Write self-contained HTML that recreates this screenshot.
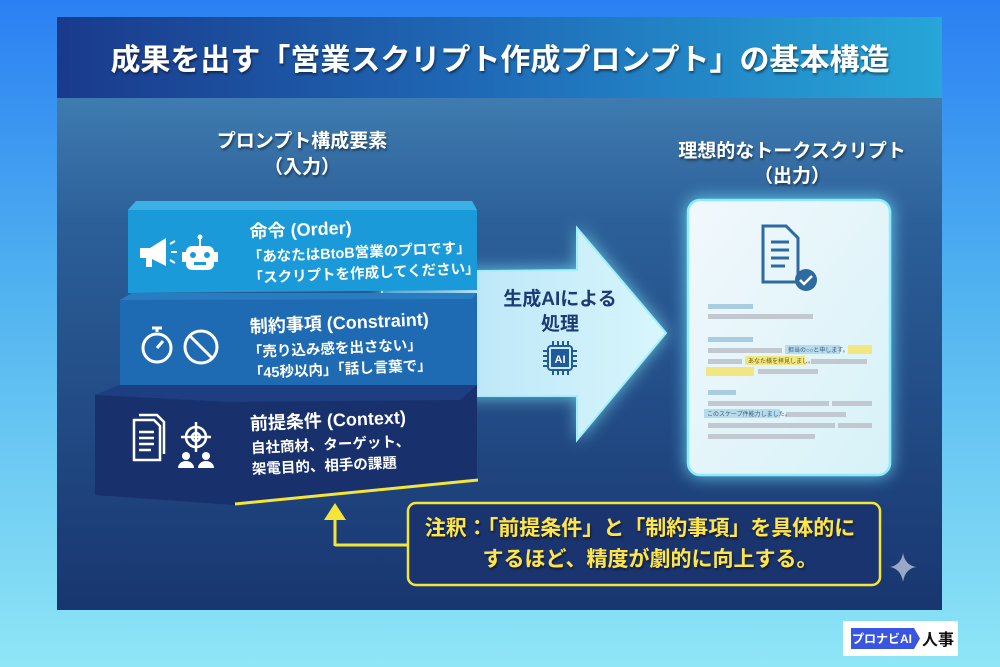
<!DOCTYPE html>
<html><head><meta charset="utf-8"><style>
html,body{margin:0;padding:0;background:#8fe6f6;}
body{width:1000px;height:667px;overflow:hidden;background:linear-gradient(180deg,#2a80f2 0%,#52b4f0 45%,#8fe6f6 100%);font-family:"Liberation Sans","Noto Sans CJK JP",sans-serif;}
svg{display:block;}
svg text{font-family:"Liberation Sans","Noto Sans CJK JP",sans-serif;}
</style></head><body>
<svg width="1000" height="667" viewBox="0 0 1000 667" xmlns="http://www.w3.org/2000/svg">
<defs>
<linearGradient id="bg" x1="0" x2="0" y1="0" y2="1"><stop offset="0" stop-color="#2a80f2"/><stop offset="0.45" stop-color="#52b4f0"/><stop offset="1" stop-color="#8fe6f6"/></linearGradient>
<linearGradient id="hdr" x1="0" x2="1" y1="0" y2="0"><stop offset="0" stop-color="#1a3a8c"/><stop offset="0.5" stop-color="#1f6cb8"/><stop offset="1" stop-color="#27a6d8"/></linearGradient>
<linearGradient id="pnl" x1="0" x2="0" y1="0" y2="1"><stop offset="0" stop-color="#4a8ebf"/><stop offset="0.35" stop-color="#2c5f98"/><stop offset="1" stop-color="#183670"/></linearGradient>
<linearGradient id="arr" x1="0" x2="1" y1="0" y2="0"><stop offset="0" stop-color="#5a9ad0" stop-opacity="0.3"/><stop offset="0.35" stop-color="#bfe8f8"/><stop offset="1" stop-color="#d8f6fc"/></linearGradient>
<linearGradient id="doc" x1="0" x2="1" y1="0" y2="1"><stop offset="0" stop-color="#f2f8fc"/><stop offset="1" stop-color="#d6f2f8"/></linearGradient>
<filter id="glow" x="-30%" y="-30%" width="160%" height="160%"><feGaussianBlur stdDeviation="8"/></filter>
<filter id="sh"><feDropShadow dx="1" dy="2" stdDeviation="1.2" flood-color="#000" flood-opacity="0.5"/></filter>
</defs>
<rect x="0" y="0" width="1000" height="667" fill="url(#bg)"/>
<rect x="57" y="17" width="885" height="593" fill="url(#pnl)"/>
<rect x="57" y="17" width="885" height="81" fill="url(#hdr)"/>
<text x="500" y="70" text-anchor="middle" font-size="30" font-weight="bold" fill="#fff" filter="url(#sh)">成果を出す「営業スクリプト作成プロンプト」の基本構造</text>

<text x="302" y="147" text-anchor="middle" font-size="19" font-weight="bold" fill="#fff" filter="url(#sh)">プロンプト構成要素</text>
<text x="302" y="173" text-anchor="middle" font-size="19" font-weight="bold" fill="#fff" filter="url(#sh)">（入力）</text>
<text x="792" y="157" text-anchor="middle" font-size="19" font-weight="bold" fill="#fff" filter="url(#sh)">理想的なトークスクリプト</text>
<text x="792" y="182" text-anchor="middle" font-size="19" font-weight="bold" fill="#fff" filter="url(#sh)">（出力）</text>

<!-- arrow -->
<polygon points="382,270 577,268 577,226 668,333 577,442 577,398 382,398" fill="#7ee6f8" filter="url(#glow)" opacity="0.7"/>
<polygon points="382,272 577,270 577,228 666,333 577,440 577,396 382,396" fill="url(#arr)" stroke="#9ff0fc" stroke-width="2"/>
<text x="560" y="305" text-anchor="middle" font-size="19" font-weight="bold" fill="#1c3a74">生成AIによる</text>
<text x="560" y="330" text-anchor="middle" font-size="19" font-weight="bold" fill="#1c3a74">処理</text>
<g stroke="#1f5a9a" stroke-width="2" fill="none">
<rect x="548" y="346" width="24" height="24" rx="3"/>
<path d="M553 346v-5M558 346v-5M563 346v-5M568 346v-5M553 370v5M558 370v5M563 370v5M568 370v5M548 351h-5M548 356h-5M548 361h-5M548 366h-5M572 351h5M572 356h5M572 361h5M572 366h5"/>
</g>
<rect x="551" y="349" width="18" height="18" fill="#1f5a9a"/>
<text x="560" y="363" text-anchor="middle" font-size="11" font-weight="bold" fill="#fff">AI</text>

<!-- blocks -->
<polygon points="95,395 120,385 477,385 477,480 235,505 95,495" fill="#18306c"/>
<polygon points="95,395 120,385 477,385 460,400 230,402" fill="#1e3e82"/>
<polygon points="120,300 132,293 477,293 477,385 120,385" fill="#1e6bb3"/>
<polygon points="120,300 132,293 477,293 472,299" fill="#2a7cc0"/>
<polygon points="128,210 136,201 472,201 477,210 477,290 128,293" fill="#1b9ad9"/>
<polygon points="128,210 136,201 472,201 477,210" fill="#3ab0e6"/>
<line x1="235" y1="504" x2="478" y2="480" stroke="#f5e53a" stroke-width="3"/>

<g fill="#fff" font-weight="bold">
<g transform="rotate(-2.5 250 240)">
<text x="250" y="238" font-size="18">命令 (Order)</text>
<text x="247" y="262" font-size="14.5">「あなたはBtoB営業のプロです」</text>
<text x="247" y="283" font-size="14.5">「スクリプトを作成してください」</text>
</g>
<g transform="rotate(-2.5 250 330)">
<text x="250" y="333" font-size="18">制約事項 (Constraint)</text>
<text x="247" y="357" font-size="14.5">「売り込み感を出さない」</text>
<text x="247" y="378" font-size="14.5">「45秒以内」「話し言葉で」</text>
</g>
<g transform="rotate(-2.5 250 425)">
<text x="250" y="430" font-size="18">前提条件 (Context)</text>
<text x="250" y="453" font-size="14.5">自社商材、ターゲット、</text>
<text x="250" y="474" font-size="14.5">架電目的、相手の課題</text>
</g>
</g>
<!-- icons -->
<g fill="#fff">
<polygon points="140,248 150,248 166,238 166,266 150,258 140,258"/><rect x="146" y="257" width="6" height="10"/>
<path d="M170 244l5-3M171 252h6M170 260l5 3" stroke="#fff" stroke-width="2"/>
<rect x="186" y="246" width="28" height="24" rx="6"/><rect x="182" y="252" width="4" height="10"/><rect x="214" y="252" width="4" height="10"/>
<rect x="199" y="238" width="2" height="8"/><circle cx="200" cy="237" r="2.5"/>
<circle cx="193" cy="255" r="3" fill="#1b9ad9"/><circle cx="207" cy="255" r="3" fill="#1b9ad9"/><rect x="194" y="262" width="12" height="3" fill="#1b9ad9"/>
</g>
<g fill="none" stroke="#fff" stroke-width="3">
<circle cx="157" cy="348" r="14"/><path d="M157 332v-4M152 328h10M157 348l6-7"/>
<circle cx="201" cy="347" r="16"/><line x1="190" y1="336" x2="212" y2="358"/>
</g>
<g fill="none" stroke="#fff" stroke-width="2.5">
<path d="M134 420h20l6 6v34h-26z"/><path d="M139 415h18l7 7v32"/>
<path d="M139 432h15M139 438h15M139 444h15M139 450h12"/>
<circle cx="196" cy="437" r="10"/><circle cx="196" cy="437" r="4"/><path d="M196 422v30M181 437h30"/>
</g>
<g fill="#fff"><circle cx="186" cy="456" r="4"/><path d="M178 468a8 7 0 0 1 16 0z"/><circle cx="206" cy="456" r="4"/><path d="M198 468a8 7 0 0 1 16 0z"/></g>

<!-- doc card -->
<rect x="686" y="198" width="206" height="279" rx="14" fill="#6ee0f8" filter="url(#glow)" opacity="0.8"/>
<rect x="688" y="200" width="202" height="275" rx="12" fill="url(#doc)" stroke="#8cecfc" stroke-width="2.5"/>
<g stroke="#2c6aa0" stroke-width="3" fill="none"><path d="M763 226h23l12 12v44h-35z"/><path d="M771 242h18M771 250h18M771 258h18M771 266h14"/></g>
<circle cx="806" cy="280" r="11" fill="#2c6aa0"/><path d="M800 280l4 4 8-8" stroke="#fff" stroke-width="2.5" fill="none"/>
<g fill="#a8cde0"><rect x="708" y="304" width="45" height="5"/><rect x="708" y="337" width="45" height="5"/><rect x="708" y="390" width="28" height="5"/></g>
<g fill="#c2c8cf">
<rect x="708" y="314" width="105" height="5"/><rect x="708" y="348" width="74" height="5"/><rect x="708" y="359" width="34" height="5"/><rect x="811" y="359" width="56" height="5"/><rect x="758" y="369" width="60" height="5"/>
<rect x="708" y="401" width="121" height="5"/><rect x="832" y="401" width="40" height="5"/><rect x="786" y="412" width="60" height="5"/><rect x="708" y="423" width="127" height="5"/><rect x="838" y="423" width="34" height="5"/><rect x="708" y="434" width="107" height="5"/>
</g>
<rect x="785" y="345" width="55" height="9" fill="#b6dcec"/><text x="788" y="352" font-size="6" fill="#3a5a7a">担当の○○と申します。</text>
<rect x="848" y="345" width="24" height="9" fill="#f2e680"/>
<rect x="745" y="356" width="60" height="9" fill="#f2e680"/><text x="748" y="363" font-size="6" fill="#6a5a20">あなた様を拝見しまし。</text>
<rect x="706" y="367" width="48" height="9" fill="#f2e680"/>
<rect x="704" y="409" width="76" height="9" fill="#b6dcec"/><text x="707" y="416" font-size="6" fill="#3a5a7a">このスケープ件能力しました。</text>

<!-- note connector -->
<path d="M335 545H408" stroke="#f5e53a" stroke-width="3" fill="none"/>
<path d="M335 546V518" stroke="#f5e53a" stroke-width="3"/>
<polygon points="324,520 346,520 335,503" fill="#f5e53a"/>
<rect x="408" y="503" width="472" height="82" rx="8" fill="#1a3470" stroke="#f5e53a" stroke-width="2.5"/>
<g font-size="21" font-weight="bold" fill="#ffe54a" filter="url(#sh)">
<text x="640" y="535" text-anchor="middle">注釈：「前提条件」と「制約事項」を具体的に</text>
<text x="650" y="566" text-anchor="middle">するほど、精度が劇的に向上する。</text>
</g>
<path d="M903 553Q905 565 916 567Q905 569 903 582Q901 569 890 567Q901 565 903 553z" fill="#b8c4dc" opacity="0.8"/>

<!-- logo -->
<rect x="843" y="621" width="115" height="35" fill="#fff"/>
<polygon points="851,628 914,628 920,638.5 914,649 851,649" fill="#3a55e0"/>
<text x="882" y="643" text-anchor="middle" font-size="12" font-weight="bold" fill="#fff">プロナビAI</text>
<text x="922" y="645" font-size="16" font-weight="bold" fill="#111">人事</text>
</svg>
</body></html>
